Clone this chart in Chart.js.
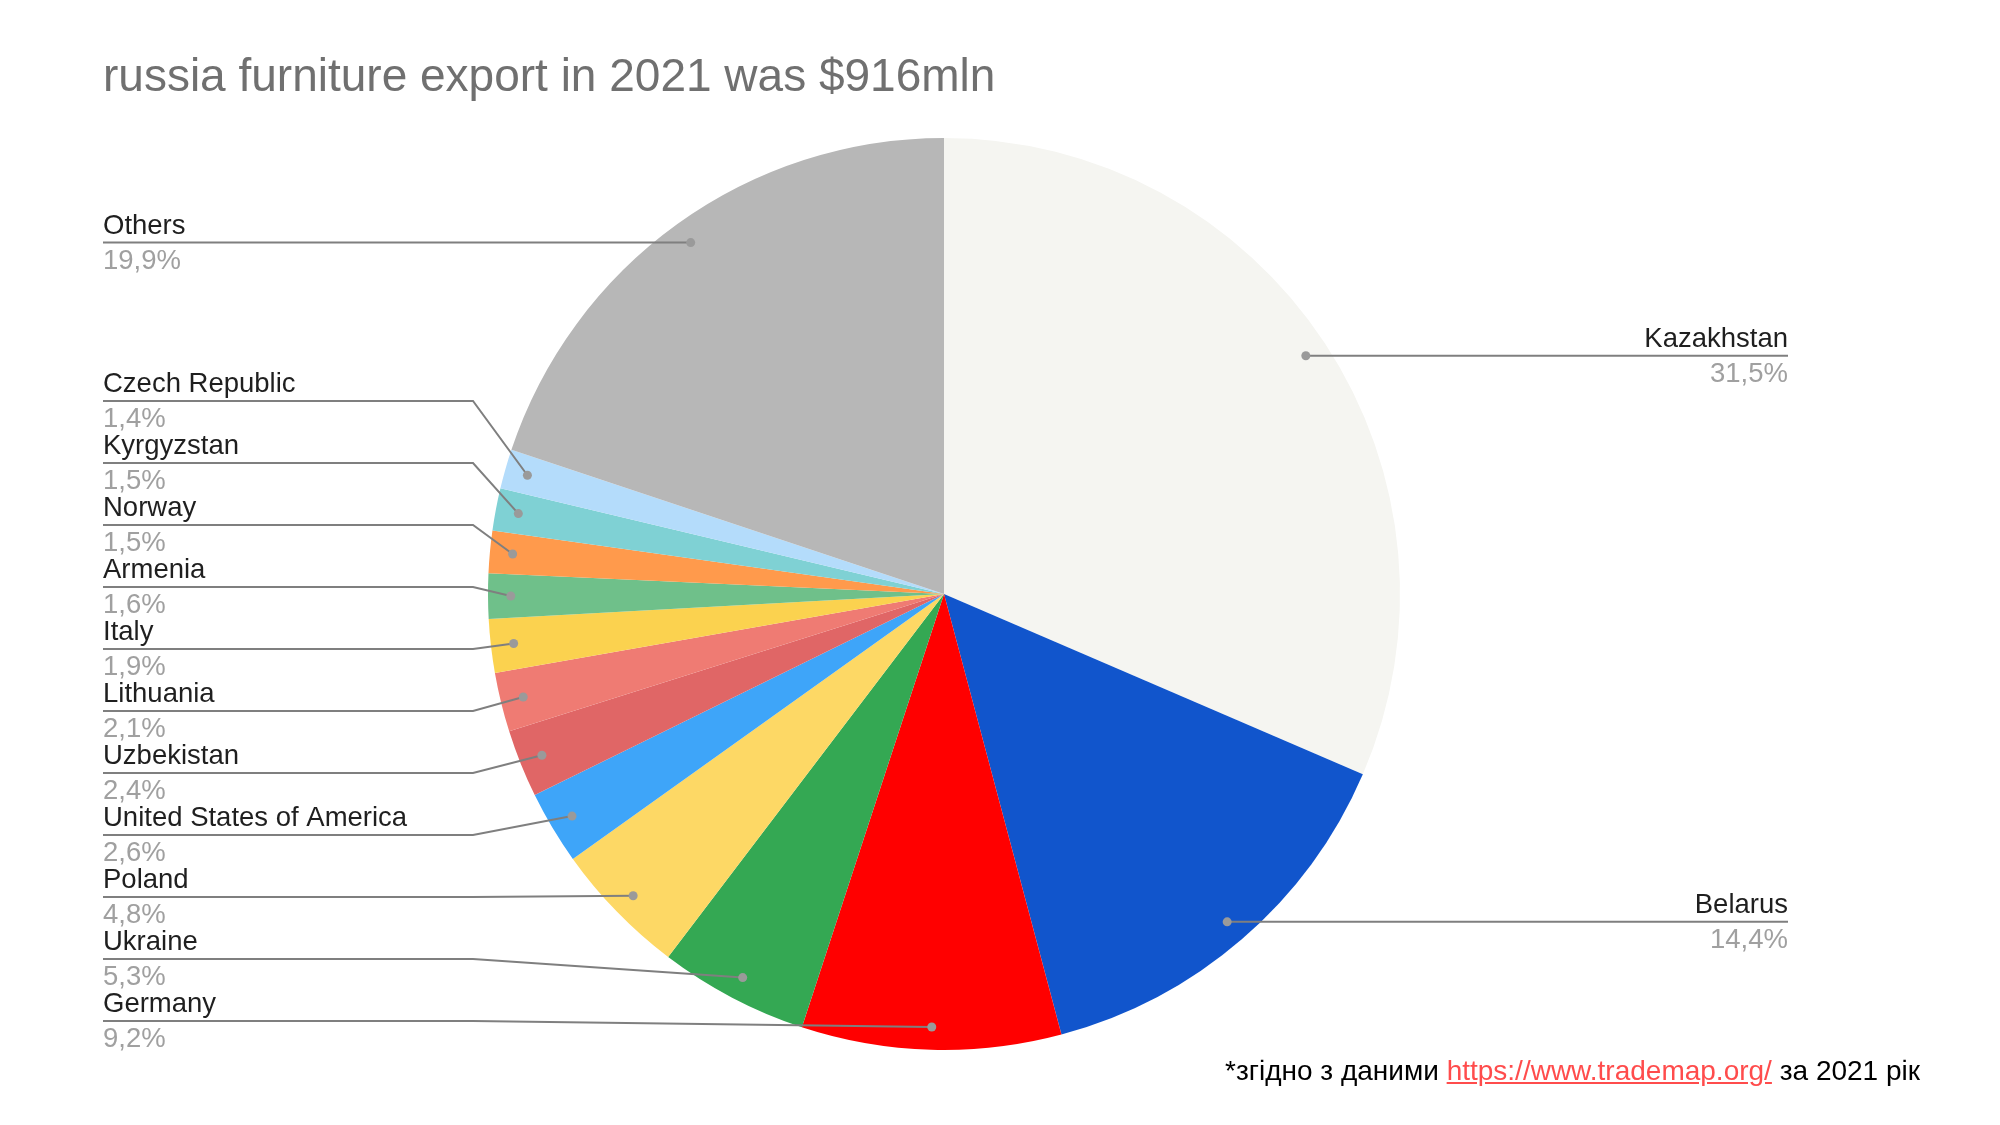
<!DOCTYPE html>
<html>
<head>
<meta charset="utf-8">
<script src="https://cdn.jsdelivr.net/npm/chart.js@4"></script>
<style>
  body { margin: 0; background: #fff; }
  .wrap { position: relative; width: 2000px; height: 1125px; font-family: 'Liberation Sans', Arial, sans-serif; }
  .title { position: absolute; left: 103px; top: 52px; margin: 0; font-size: 46px; line-height: 46px; font-weight: 400; color: #707070; white-space: nowrap; }
  .note { position: absolute; right: 80px; top: 1057px; font-size: 28px; line-height: 28px; color: #000; white-space: nowrap; }
  .note a { color: #ff4c4c; text-decoration: underline; }
</style>
</head>
<body>
<div class="wrap">
  <h1 class="title">russia furniture export in 2021 was $916mln</h1>
  <canvas id="myChart" width="2000" height="1125"></canvas>
  <div class="note">*згідно з даними <a href="https://www.trademap.org/">https://www.trademap.org/</a> за 2021 рік</div>
</div>
<script>
// === data (share of export, %) === //
const countries = ['Kazakhstan', 'Belarus', 'Germany', 'Ukraine', 'Poland', 'United States of America', 'Uzbekistan', 'Lithuania', 'Italy', 'Armenia', 'Norway', 'Kyrgyzstan', 'Czech Republic', 'Others'];
const shares = [31.5, 14.4, 9.2, 5.3, 4.8, 2.6, 2.4, 2.1, 1.9, 1.6, 1.5, 1.5, 1.4, 19.9];
const sliceColors = ['#f5f5f1', '#1155cc', '#ff0000', '#34a853', '#fdd865', '#3ea5f9', '#e06666', '#ef7b73', '#fbd24f', '#6fc08a', '#ff9a4c', '#7fd1d4', '#b4dcfb', '#b7b7b7'];

const FONT = "'Liberation Sans', Arial, sans-serif";

// leader lines + labels (google-slides look)
const leaderLabels = {
  id: 'leaderLabels',
  afterDatasetsDraw(chart) {
    const { ctx } = chart;
    const arcs = chart.getDatasetMeta(0).data;
    const gap = 62;
    const bottomLimit = 1021;
    const leftX = 103;
    const leftElbow = 473;
    const rightX = 1788;

    const items = arcs.map((arc, i) => {
      const mid = (arc.startAngle + arc.endAngle) / 2;
      const d = arc.outerRadius * 0.95;
      const px = arc.x + Math.cos(mid) * d;
      const py = arc.y + Math.sin(mid) * d;
      return { i, px, py, y: py, left: px < arc.x };
    });

    // spread the left labels so they do not overlap
    const left = items.filter((it) => it.left).sort((a, b) => a.py - b.py);
    for (let k = 1; k < left.length; k++) left[k].y = Math.max(left[k].y, left[k - 1].y + gap);
    left[left.length - 1].y = Math.min(left[left.length - 1].y, bottomLimit);
    for (let k = left.length - 2; k >= 0; k--) left[k].y = Math.min(left[k].y, left[k + 1].y - gap);

    ctx.save();
    items.forEach((it) => {
      ctx.strokeStyle = '#7f7f7f';
      ctx.lineWidth = 2;
      ctx.beginPath();
      if (it.left) {
        ctx.moveTo(leftX, it.y);
        ctx.lineTo(leftElbow, it.y);
      } else {
        ctx.moveTo(rightX, it.y);
      }
      ctx.lineTo(it.px, it.py);
      ctx.stroke();

      ctx.fillStyle = '#9a9a9a';
      ctx.beginPath();
      ctx.arc(it.px, it.py, 4.5, 0, Math.PI * 2);
      ctx.fill();

      const tx = it.left ? leftX : rightX;
      ctx.textAlign = it.left ? 'left' : 'right';
      ctx.textBaseline = 'alphabetic';
      ctx.font = `27.5px ${FONT}`;
      ctx.fillStyle = '#1f1f1f';
      ctx.fillText(countries[it.i], tx, it.y - 9);
      ctx.fillStyle = '#a0a0a0';
      ctx.fillText(shares[it.i].toFixed(1).replace('.', ',') + '%', tx, it.y + 26);
    });
    ctx.restore();
  },
};

const ctx = document.getElementById('myChart');
let chart = new Chart(ctx, {
  type: 'pie',
  data: {
    labels: countries,
    datasets: [
      {
        data: shares,
        backgroundColor: sliceColors,
        borderWidth: 0,
        hoverOffset: 0,
        offset: 0,
      },
    ],
  },
  options: {
    responsive: false,
    animation: false,
    devicePixelRatio: 1,
    // pie centre ~ (944, 594), radius 456
    layout: {
      padding: { top: 138, bottom: 75, left: 488, right: 600 },
    },
    plugins: {
      legend: { display: false },
      tooltip: { enabled: false },
    },
  },
  plugins: [leaderLabels],
});
</script>
</body>
</html>
